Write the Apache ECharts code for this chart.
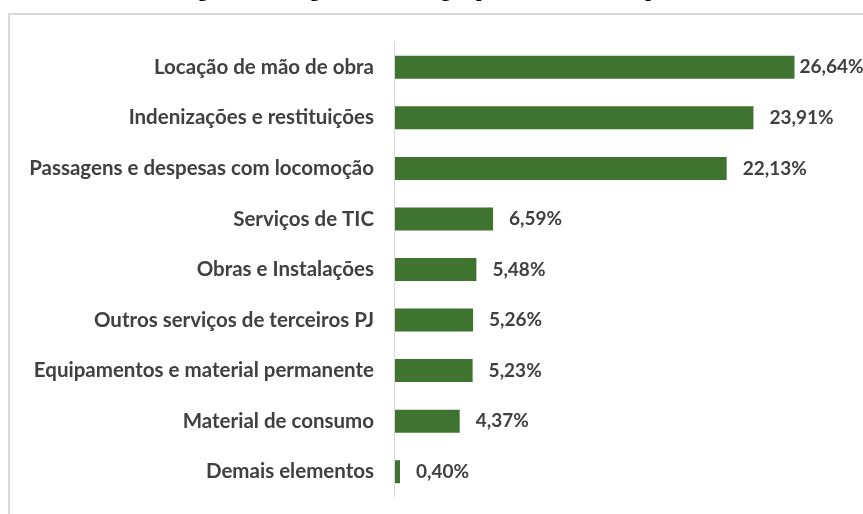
<!DOCTYPE html>
<html>
<head>
<meta charset="utf-8">
<script src="https://cdn.jsdelivr.net/npm/echarts@6/dist/echarts.min.js"></script>
<style>
  html, body { margin: 0; padding: 0; background: #fff; }
  #main { width: 863px; height: 514px; }
</style>
</head>
<body>
<div id="main"></div>
<script>
  // categorias (de cima para baixo)
  var categorias = [
    'Locação de mão de obra',
    'Indenizações e restituições',
    'Passagens e despesas com locomoção',
    'Serviços de TIC',
    'Obras e Instalações',
    'Outros serviços de terceiros PJ',
    'Equipamentos e material permanente',
    'Material de consumo',
    'Demais elementos'
  ];
  var percentuais = [26.64, 23.91, 22.13, 6.59, 5.48, 5.26, 5.23, 4.37, 0.40];
  var titulo = 'Figura 5.8 – Pagamentos do órgão por elemento de despesa';

  var myChart = echarts.init(document.getElementById('main'));

  // o primeiro rótulo fica encostado na barra (falta espaço à direita)
  var dados = percentuais.map(function (v, i) {
    var item = { value: v };
    if (i === 0) {
      item.label = { offset: [-11, 0] };
    }
    return item;
  });

  myChart.setOption({
    animation: false,
    backgroundColor: '#fff',
    graphic: [
      {
        // título cortado no topo da imagem: só aparecem as descendentes
        type: 'text',
        left: 'center',
        top: -19,
        z: -10,
        style: {
          text: titulo,
          font: 'bold 20px "Liberation Serif", serif',
          fill: '#000'
        }
      },
      {
        type: 'rect',
        z: -10,
        shape: { x: 9, y: 14, width: 900, height: 600 },
        style: { fill: '#fff', stroke: '#d9d9d9', lineWidth: 2 }
      }
    ],
    grid: {
      left: 394,
      top: 42,
      bottom: 17,
      right: 18
    },
    xAxis: {
      type: 'value',
      min: 0,
      max: 30,
      show: false
    },
    yAxis: {
      type: 'category',
      data: categorias,
      inverse: true,
      z: 5,
      axisLine: { show: true, lineStyle: { color: '#d9d9d9', width: 1 } },
      axisTick: { show: false },
      axisLabel: {
        margin: 20,
        color: '#404040',
        fontFamily: 'Lato',
        fontSize: 20.5,
        fontWeight: 'bold'
      }
    },
    series: [{
      type: 'bar',
      data: dados,
      barWidth: 23,
      z: 3,
      itemStyle: { color: '#3f7430' },
      label: {
        show: true,
        position: 'right',
        distance: 16,
        color: '#404040',
        fontFamily: 'Lato',
        fontSize: 19,
        fontWeight: 'bold',
        formatter: function (p) {
          return p.value.toFixed(2).replace('.', ',') + '%';
        }
      }
    }]
  });

  window.addEventListener('resize', function () {
    myChart.resize();
  });
</script>
</body>
</html>
